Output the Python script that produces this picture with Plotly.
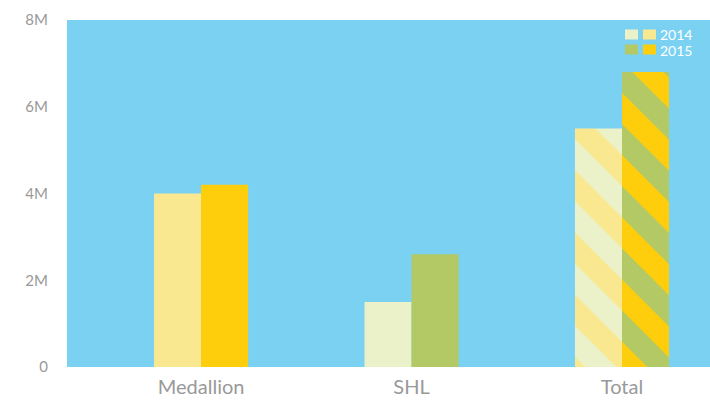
import plotly.graph_objects as go

# Ridership by service type (millions of trips)
categories = ["Medallion", "SHL", "Total"]
values_2014 = [4.0, 1.5, 5.5]
values_2015 = [4.2, 2.6, 6.8]
y_ticks = [0, 2, 4, 6, 8]
y_tick_text = ["0", "2M", "4M", "6M", "8M"]

BG = "#7bd1f2"
LIGHT_YELLOW = "#fae891"
GOLD = "#fecd0c"
LIGHT_GREEN = "#ebf2c9"
GREEN = "#b2c966"

W, H = 710, 404
M_L, M_R, M_T, M_B = 67, 0, 20, 37

fig = go.Figure()

# Per year: solid bars for the two services, and a striped total blending both colours
year_styles = [
    ("2014", values_2014, LIGHT_YELLOW, LIGHT_GREEN),
    ("2015", values_2015, GOLD, GREEN),
]
for year, vals, medallion_col, shl_col in year_styles:
    fig.add_trace(go.Bar(
        x=categories[:2], y=vals[:2], name=year, offsetgroup=year, showlegend=False,
        marker=dict(color=[medallion_col, shl_col], line=dict(width=0)),
    ))
    fig.add_trace(go.Bar(
        x=categories[2:], y=vals[2:], name=year, offsetgroup=year, showlegend=False,
        marker=dict(color=medallion_col, line=dict(width=0),
                    pattern=dict(shape="\\", fgcolor=shl_col, bgcolor=medallion_col,
                                 fgopacity=1, size=44, solidity=0.5)),
    ))

# Custom legend: two swatches per year (SHL colour, Medallion colour) then the label
pw = W - M_L - M_R
ph = H - M_T - M_B


def px_x(x):
    return (x - M_L) / pw


def px_y(y):
    return (H - M_B - y) / ph


legend_rows = [
    ("2014", [LIGHT_GREEN, LIGHT_YELLOW], 29.5, 39.5),
    ("2015", [GREEN, GOLD], 44.5, 54.5),
]
swatch_x = [(625, 638), (643, 656)]
for label, cols, y0, y1 in legend_rows:
    for (x0, x1), c in zip(swatch_x, cols):
        fig.add_shape(type="rect", xref="paper", yref="paper",
                      x0=px_x(x0), x1=px_x(x1), y0=px_y(y1), y1=px_y(y0),
                      fillcolor=c, line=dict(width=0), layer="above")
    fig.add_annotation(xref="paper", yref="paper", x=px_x(659), y=px_y((y0 + y1) / 2),
                       text=label, showarrow=False, xanchor="left", yanchor="middle",
                       font=dict(family="Lato", size=14, color="white"),
                       height=14, borderpad=0)

fig.update_layout(
    width=W, height=H,
    margin=dict(l=M_L, r=M_R, t=M_T, b=M_B),
    paper_bgcolor="white",
    plot_bgcolor=BG,
    barmode="group",
    bargap=0.553,
    bargroupgap=0,
    font=dict(family="Lato", color="#999999"),
    xaxis=dict(range=[-0.637, 2.418], showgrid=False, zeroline=False, showline=False,
               ticks="", tickfont=dict(size=20, color="#999999"), ticklabelstandoff=6),
    yaxis=dict(range=[0, 8], tickvals=y_ticks, ticktext=y_tick_text, showgrid=False,
               zeroline=False, showline=False, ticks="",
               tickfont=dict(size=15, color="#999999"), ticklabelstandoff=18),
)

fig.write_html("out.html")
